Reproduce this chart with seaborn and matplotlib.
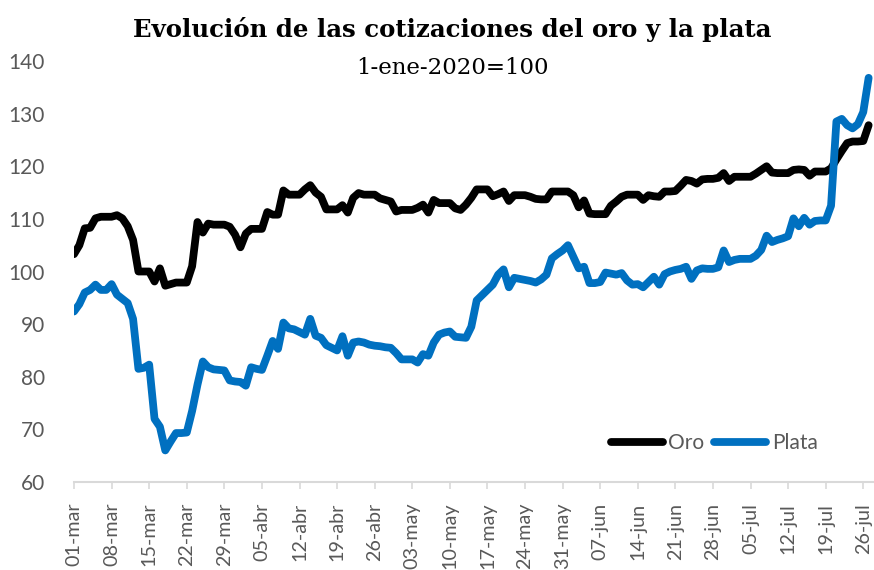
import matplotlib
matplotlib.use("Agg")
import matplotlib.pyplot as plt
import matplotlib.dates as mdates
from matplotlib.lines import Line2D
from matplotlib.ticker import FuncFormatter
import pandas as pd
import seaborn as sns

# cotizaciones diarias, base 1-ene-2020 = 100 (semanas de domingo a sábado)
fechas = pd.date_range("2020-03-01", "2020-07-27", freq="D")

oro = [
    103.3, 105.0, 108.2, 108.3, 110.1, 110.4, 110.4,
    110.4, 110.7, 110.1, 108.6, 106.0, 100.0, 100.0,
    100.0, 98.1, 100.6, 97.3, 97.6, 97.9, 97.9,
    97.9, 101.0, 109.4, 107.4, 109.1, 108.9, 108.9,
    108.9, 108.5, 107.0, 104.6, 107.2, 108.1, 108.1,
    108.1, 111.3, 110.8, 110.8, 115.4, 114.6, 114.6,
    114.6, 115.6, 116.4, 115.0, 114.2, 111.8, 111.8,
    111.8, 112.6, 111.2, 114.0, 114.9, 114.6, 114.6,
    114.6, 113.9, 113.6, 113.3, 111.4, 111.7, 111.7,
    111.7, 112.1, 112.7, 111.2, 113.6, 113.0, 113.0,
    113.0, 112.0, 111.7, 112.7, 114.0, 115.6, 115.6,
    115.6, 114.3, 114.7, 115.2, 113.4, 114.5, 114.5,
    114.5, 114.2, 113.8, 113.7, 113.7, 115.2, 115.2,
    115.2, 115.2, 114.5, 112.2, 113.5, 111.0, 110.9,
    110.9, 110.9, 112.5, 113.3, 114.2, 114.6, 114.6,
    114.6, 113.6, 114.5, 114.3, 114.2, 115.2, 115.2,
    115.3, 116.3, 117.4, 117.2, 116.7, 117.5, 117.6,
    117.6, 117.8, 118.7, 117.2, 118.0, 118.0, 118.0,
    118.0, 118.6, 119.3, 120.0, 118.8, 118.7, 118.7,
    118.7, 119.3, 119.4, 119.3, 118.2, 119.0, 119.0,
    119.0, 119.6, 121.3, 122.9, 124.4, 124.7, 124.7,
    124.8, 127.8,
]

plata = [
    92.4, 93.8, 96.0, 96.5, 97.5, 96.5, 96.5,
    97.6, 95.6, 94.8, 94.0, 91.0, 81.5, 81.7,
    82.3, 72.0, 70.5, 66.0, 67.7, 69.3, 69.3,
    69.4, 73.5, 78.5, 82.9, 81.8, 81.4, 81.3,
    81.2, 79.3, 79.1, 79.0, 78.3, 81.8, 81.5,
    81.3, 84.0, 86.8, 85.3, 90.3, 89.2, 89.0,
    88.5, 88.0, 91.0, 87.8, 87.4, 86.0, 85.5,
    85.0, 87.7, 84.0, 86.5, 86.7, 86.5, 86.1,
    85.9, 85.8, 85.6, 85.5, 84.5, 83.3, 83.3,
    83.3, 82.7, 84.3, 84.0, 86.5, 88.0, 88.4,
    88.6, 87.6, 87.5, 87.4, 89.5, 94.5, 95.5,
    96.5, 97.5, 99.4, 100.4, 97.0, 98.8, 98.6,
    98.4, 98.2, 97.9, 98.5, 99.4, 102.5, 103.3,
    104.0, 105.0, 102.8, 100.6, 100.9, 97.8, 97.8,
    98.0, 99.8, 99.6, 99.4, 99.7, 98.3, 97.5,
    97.6, 97.0, 98.0, 99.0, 97.5, 99.5, 100.0,
    100.3, 100.5, 100.9, 98.6, 100.2, 100.6, 100.5,
    100.5, 100.8, 104.0, 101.8, 102.2, 102.4, 102.4,
    102.4, 103.0, 104.1, 106.8, 105.6, 106.0, 106.3,
    106.7, 110.1, 108.6, 110.2, 108.9, 109.6, 109.7,
    109.7, 112.5, 128.5, 129.0, 127.8, 127.2, 128.0,
    130.3, 136.8,
]

series = ["Oro", "Plata"]
colores = {"Oro": "#000000", "Plata": "#0070C0"}
meses = ["ene", "feb", "mar", "abr", "may", "jun",
         "jul", "ago", "sep", "oct", "nov", "dic"]

titulo = "Evolución de las cotizaciones del oro y la plata"
subtitulo = "1-ene-2020=100"

df = pd.concat([
    pd.DataFrame({"fecha": fechas, "valor": oro, "serie": "Oro"}),
    pd.DataFrame({"fecha": fechas, "valor": plata, "serie": "Plata"}),
])

sns.set_theme(style="white")
plt.rcParams["font.family"] = ["Lato", "DejaVu Sans"]

fig = plt.figure(figsize=(8.74, 5.70), dpi=100)
ax = fig.add_axes([74 / 874, 88 / 570, 800 / 874, 421 / 570])

sns.lineplot(data=df, x="fecha", y="valor", hue="serie", palette=colores,
             estimator=None, linewidth=5.6, legend=False, ax=ax,
             solid_capstyle="round", solid_joinstyle="round")

ax.set_xlim(pd.Timestamp("2020-03-01"), pd.Timestamp("2020-07-28"))
ax.set_ylim(60, 140)
ax.set_yticks(range(60, 141, 10))
ax.set_xlabel("")
ax.set_ylabel("")

ax.xaxis.set_major_locator(mdates.WeekdayLocator(byweekday=mdates.SU))
ax.xaxis.set_major_formatter(FuncFormatter(
    lambda v, p: f"{mdates.num2date(v).day:02d}-{meses[mdates.num2date(v).month - 1]}"))

for s in ["left", "top", "right"]:
    ax.spines[s].set_visible(False)
ax.spines["bottom"].set_color("#d9d9d9")
ax.spines["bottom"].set_linewidth(1.5)

ax.tick_params(axis="x", length=5, width=1.2, color="#d9d9d9", pad=10,
               labelsize=14.2, labelcolor="#595959", labelrotation=90, bottom=True)
ax.tick_params(axis="y", length=0, pad=21, labelsize=15, labelcolor="#595959")

handles = [Line2D([], [], color=colores[s], linewidth=5.6) for s in series]
ax.legend(handles, series, loc="center", bbox_to_anchor=(0.80, 0.093), ncol=2,
          frameon=False, fontsize=15, handlelength=2.5, handletextpad=0.25,
          columnspacing=0.5, labelcolor="#595959")

fig.text(452 / 874, 1 - 30 / 570, titulo, ha="center", va="center",
         fontsize=17.6, fontweight="bold", family=["DejaVu Serif"], color="#000000")
fig.text(452 / 874, 1 - 68 / 570, subtitulo, ha="center", va="center",
         fontsize=16.5, family=["DejaVu Serif"], color="#000000")

fig.savefig("out.png", dpi=100)
